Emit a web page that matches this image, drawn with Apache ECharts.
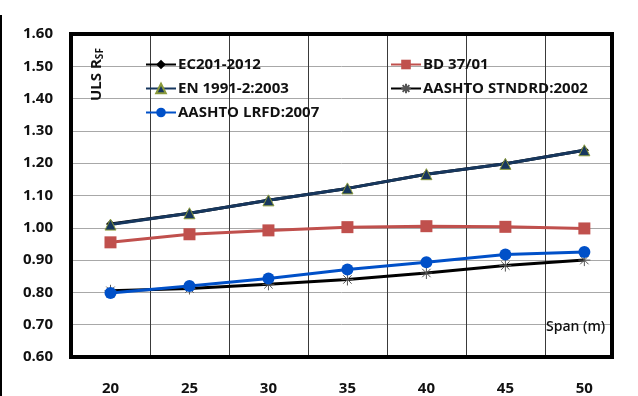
<!DOCTYPE html>
<html>
<head>
<meta charset="utf-8">
<script src="https://cdn.jsdelivr.net/npm/echarts@6/dist/echarts.min.js"></script>
<style>html,body{margin:0;padding:0;background:#fff}#c{width:638px;height:396px}</style>
</head>
<body>
<div id="c"></div>
<script>
const spans = [20, 25, 30, 35, 40, 45, 50];
const ec201 = [1.012, 1.045, 1.085, 1.122, 1.166, 1.198, 1.24];
const en1991 = [1.01, 1.045, 1.085, 1.122, 1.166, 1.198, 1.24];
const bd3701 = [0.955, 0.98, 0.992, 1.002, 1.005, 1.003, 0.998];
const aashtoLrfd = [0.798, 0.82, 0.843, 0.871, 0.893, 0.917, 0.925];
const aashtoStd = [0.805, 0.812, 0.825, 0.84, 0.86, 0.883, 0.9];
const xTickLabels = [20, 25, 30, 35, 40, 45, 50];

const pts = arr => spans.map((s, i) => [s, arr[i]]);
const FONT = 'Open Sans';
const asterisk = 'path://M5,0L5,10M0,5L10,5M1.5,1.5L8.5,8.5M1.5,8.5L8.5,1.5';

const chart = echarts.init(document.getElementById('c'), null, {renderer: 'canvas'});
chart.setOption({
  animation: false,
  backgroundColor: '#fff',
  grid: {left: 71, top: 34, right: 26, bottom: 37, show: true, borderColor: '#000', borderWidth: 4, backgroundColor: 'transparent', z: 3},
  xAxis: {
    type: 'value', min: 17.5, max: 51.75, interval: 5,
    axisLine: {show: false}, axisTick: {show: false},
    splitLine: {show: true, lineStyle: {color: '#3a3a3a', width: 1}},
    axisLabel: {customValues: xTickLabels, margin: 24, fontFamily: FONT, fontWeight: 'bold', fontSize: 15, color: '#111'}
  },
  yAxis: {
    type: 'value', min: 0.6, max: 1.6, interval: 0.1,
    axisLine: {show: false}, axisTick: {show: false},
    splitLine: {show: true, lineStyle: {color: '#a8a8a8', width: 1}},
    axisLabel: {margin: 18, fontFamily: FONT, fontWeight: 'bold', fontSize: 15, color: '#111', formatter: v => v.toFixed(2)}
  },
  legend: [
    {data: ['EC201-2012', 'EN 1991-2:2003', 'AASHTO LRFD:2007'], orient: 'vertical', left: 140, top: 52, itemWidth: 30, itemHeight: 12, itemGap: 9,
     textStyle: {fontFamily: FONT, fontWeight: 'bold', fontSize: 15, color: '#111', padding: [0, 0, 0, -3]}},
    {data: ['BD 37/01', 'AASHTO STNDRD:2002'], orient: 'vertical', left: 385, top: 52, itemWidth: 30, itemHeight: 12, itemGap: 9,
     textStyle: {fontFamily: FONT, fontWeight: 'bold', fontSize: 15, color: '#111', padding: [0, 0, 0, -3]}}
  ],
  graphic: [
    {type: 'line', shape: {x1: 1, y1: 15, x2: 1, y2: 396}, style: {stroke: '#000', lineWidth: 2}},
    {type: 'text', x: 89, y: 101, rotation: Math.PI / 2, z: 10,
     style: {text: '{a|ULS R}{b|SF}', rich: {a: {fontFamily: FONT, fontWeight: 'bold', fontSize: 15, fill: '#111'}, b: {fontFamily: FONT, fontWeight: 'bold', fontSize: 10, fill: '#111', verticalAlign: 'bottom', padding: [6, 0, 0, 0]}}}},
    {type: 'text', left: 546, top: 320, z: 10,
     style: {text: 'Span (m)', fontFamily: FONT, fontWeight: 600, fontSize: 14, fill: '#111'}}
  ],
  series: [
    {name: 'EC201-2012', type: 'line', data: pts(ec201), symbol: 'diamond', symbolSize: 9,
     lineStyle: {color: '#000', width: 3}, itemStyle: {color: '#000'}, z: 3},
    {name: 'EN 1991-2:2003', type: 'line', data: pts(en1991), symbol: 'triangle', symbolSize: 11,
     lineStyle: {color: '#17375e', width: 3}, itemStyle: {color: '#17375e', borderColor: '#8a9a3c', borderWidth: 1}, z: 4},
    {name: 'BD 37/01', type: 'line', data: pts(bd3701), symbol: 'rect', symbolSize: 12,
     lineStyle: {color: '#c0504d', width: 3}, itemStyle: {color: '#c0504d'}, z: 3},
    {name: 'AASHTO STNDRD:2002', type: 'line', data: pts(aashtoStd), symbol: asterisk, symbolSize: 12,
     lineStyle: {color: '#000', width: 3}, itemStyle: {color: 'rgba(0,0,0,0)', borderColor: '#555', borderWidth: 1}, z: 3},
    {name: 'AASHTO LRFD:2007', type: 'line', data: pts(aashtoLrfd), symbol: 'circle', symbolSize: 12,
     lineStyle: {color: '#0050c8', width: 3}, itemStyle: {color: '#0050c8'}, z: 4}
  ]
});
</script>
</body>
</html>
